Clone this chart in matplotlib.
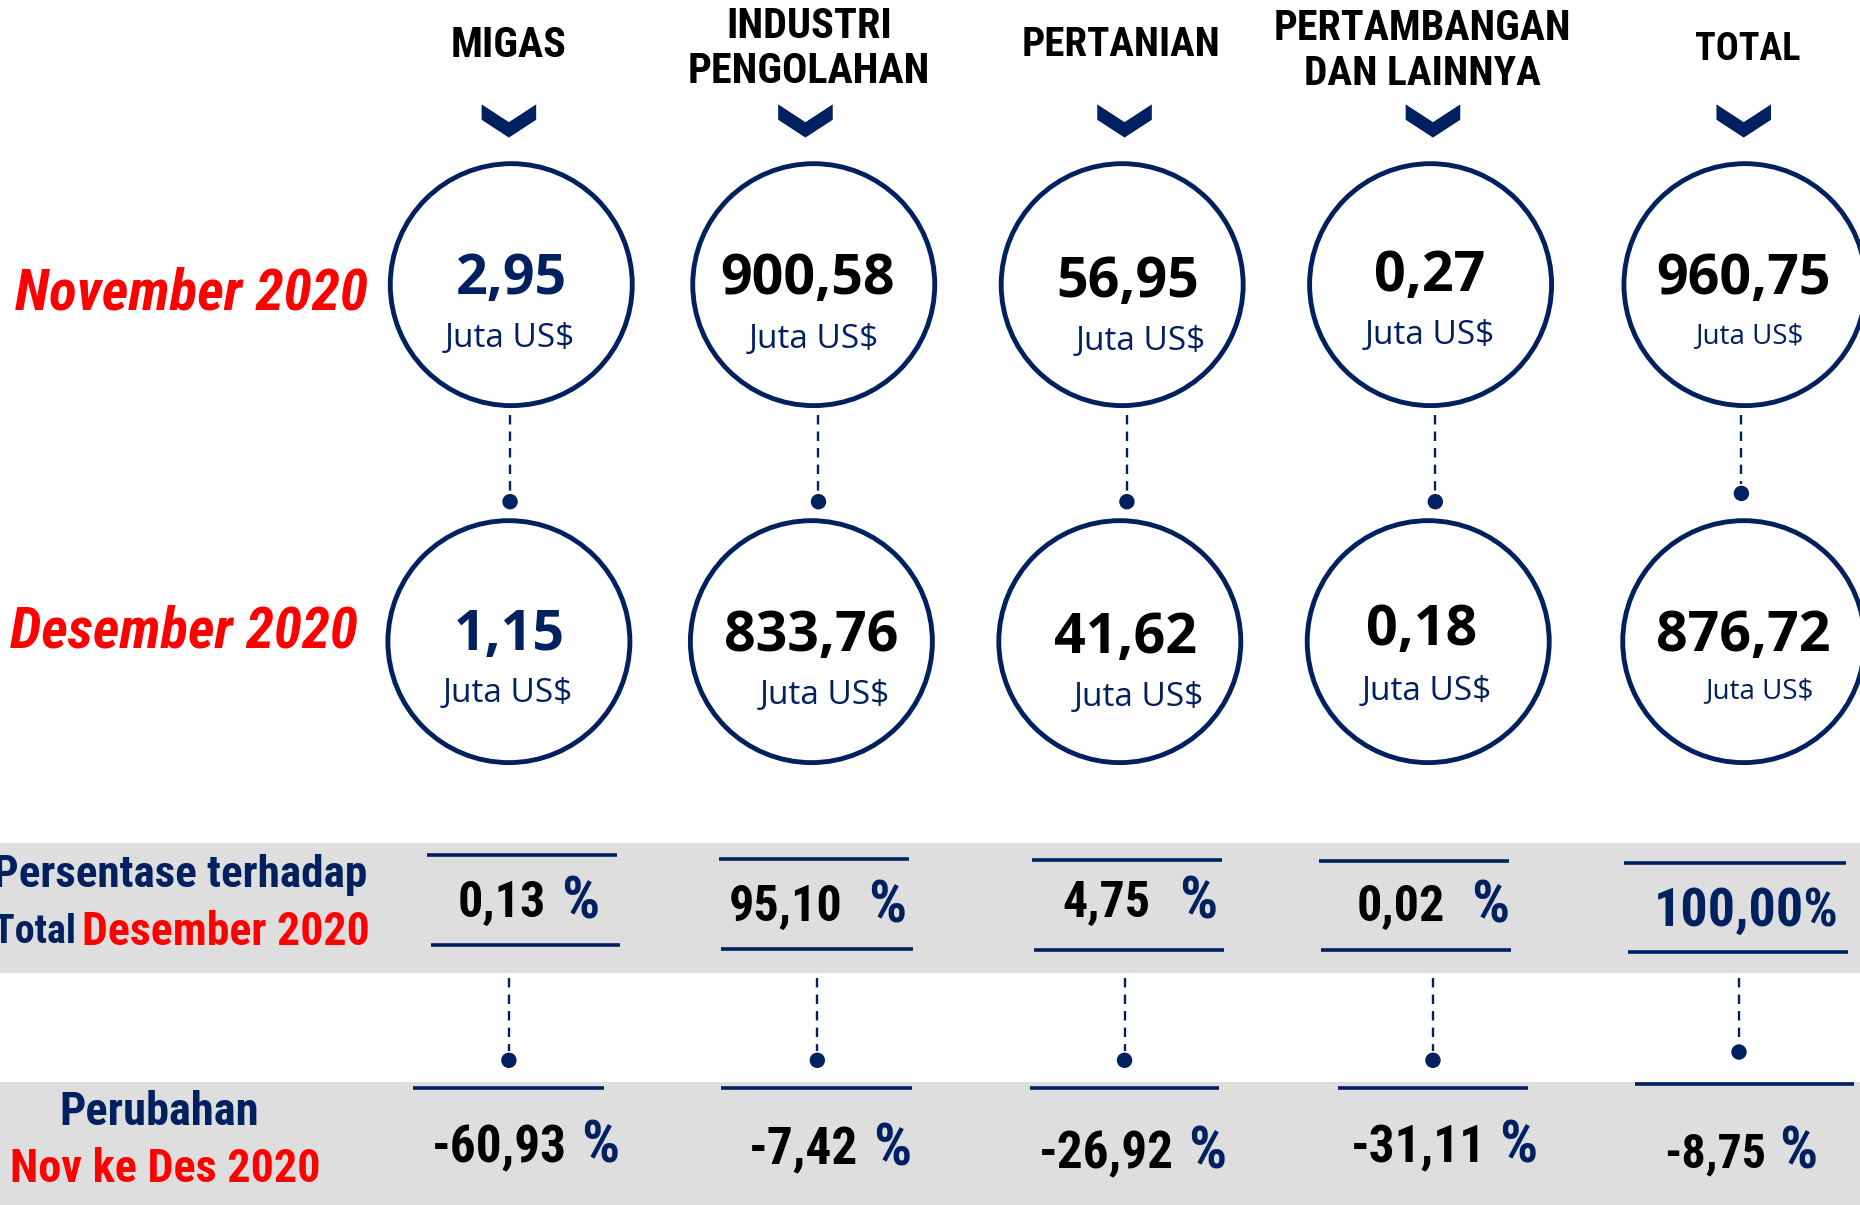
import matplotlib
matplotlib.use("Agg")
import matplotlib.pyplot as plt
from matplotlib.patches import Circle, Polygon, Rectangle
from matplotlib import font_manager as fm

# data
sektor = ["MIGAS", "INDUSTRI\nPENGOLAHAN", "PERTANIAN", "PERTAMBANGAN\nDAN LAINNYA", "TOTAL"]
nov_2020 = [2.95, 900.58, 56.95, 0.27, 960.75]
des_2020 = [1.15, 833.76, 41.62, 0.18, 876.72]
share_des = [0.13, 95.10, 4.75, 0.02, 100.00]
change = [-60.93, -7.42, -26.92, -31.11, -8.75]

NAVY = "#002060"
RED = "#FF0000"
GRAY = "#DEDEDE"

installed = {(f.name, f.stretch) for f in fm.fontManager.ttflist}
names = {n for n, s in installed}
NARROW, STRETCH = "DejaVu Sans", "normal"
for cand in ["Liberation Sans Narrow", "Arial Narrow", "Roboto Condensed",
             "Open Sans Condensed", "Noto Sans Condensed"]:
    if cand in names:
        NARROW = cand
        break
else:
    if ("DejaVu Sans", "condensed") in installed:
        STRETCH = "condensed"
    elif "Roboto" in names:
        NARROW = "Roboto"
SANS = ["Open Sans", "DejaVu Sans"]
K = 1860 / 1568


def fmt(v):
    return f"{v:.2f}".replace(".", ",")


fig = plt.figure(figsize=(18.6, 12.05), dpi=100)
ax = fig.add_axes([0, 0, 1, 1])
ax.set_xlim(0, 1568)
ax.set_ylim(1016, 0)
ax.axis("off")
renderer = fig.canvas.get_renderer()


def ntext(x, y, s, size, width, color, ha="center", style="normal"):
    # narrow bold text, shrunk if the installed font is wider than the original
    t = ax.text(x, y, s, ha=ha, va="center", fontsize=size, fontweight="bold",
                family=NARROW, fontstretch=STRETCH, style=style, color=color)
    w = t.get_window_extent(renderer).width
    if w > width * K:
        t.set_fontsize(size * width * K / w)
    return t


# layout (reference pixel coords)
head_x = [429, 682, 945, 1199, 1473]
head_y = [[38], [22, 60], [38], [24, 62], [42]]
head_w = [[98], [140, 205], [168], [251, 200], [89]]
chev_x = [429, 679, 948, 1208, 1470]
top_c = [(431, 240), (686, 240), (946, 240), (1206, 240), (1471, 240)]
bot_c = [(429, 541), (684, 541), (944, 541), (1204, 541), (1470, 541)]
top_num = [(431, 236), (681, 236), (951, 238), (1205, 233), (1470, 236)]
bot_num = [(429, 536), (684, 537), (949, 538), (1198, 532), (1470, 537)]
top_unit = [(430, 285), (686, 286), (962, 288), (1205, 283), (1475, 283)]
bot_unit = [(428, 585), (695, 586), (960, 588), (1203, 583), (1483, 583)]
unit_size = [24, 24, 24, 24, 20]
num_col = [NAVY, "black", "black", "black", "black"]
dash1_x = [430, 690, 950, 1210, 1468]
dot1_y = [423, 423, 423, 423, 416]
dash2_x = [429, 689, 948, 1208, 1466]
dot2_y = [894, 894, 894, 894, 887]
share_lines = [((360, 520, 721), (363, 523, 797)), ((606, 766, 724), (608, 770, 800)),
               ((870, 1030, 725), (872, 1032, 801)), ((1112, 1272, 726), (1114, 1274, 801)),
               ((1369, 1556, 728), (1372, 1558, 803))]
chg_lines = [(348, 509, 917), (608, 769, 917), (868, 1028, 917), (1128, 1288, 917), (1378, 1563, 914)]
share_num_r = [460, 710, 970, 1218, 1550]
share_num_w = [79, 102, 77, 80, 156]
share_pct_l = [473, 732, 994, 1240, None]
share_y = [762, 765, 762, 765, 768]
chg_num_r = [478, 723, 990, 1253, 1489]
chg_num_w = [114, 93, 115, 117, 86]
chg_pct_l = [490, 736, 1002, 1264, 1500]
chg_y = [968, 970, 973, 968, 973]

# gray bands
ax.add_patch(Rectangle((0, 711), 1568, 109, color=GRAY, zorder=0, lw=0))
ax.add_patch(Rectangle((0, 912), 1568, 110, color=GRAY, zorder=0, lw=0))

for i in range(5):
    for line, y, w in zip(sektor[i].split("\n"), head_y[i], head_w[i]):
        ntext(head_x[i], y, line, 32, w, "black")
    cx = chev_x[i]
    ax.add_patch(Polygon([(cx - 23, 88), (cx, 103), (cx + 23, 88), (cx + 23, 101),
                          (cx, 116), (cx - 23, 101)], closed=True, color=NAVY, lw=0))

    for c, nv, npos, upos in ((top_c[i], nov_2020[i], top_num[i], top_unit[i]),
                              (bot_c[i], des_2020[i], bot_num[i], bot_unit[i])):
        ax.add_patch(Circle(c, 102, fill=False, ec=NAVY, lw=3.5, zorder=2))
        ax.text(npos[0], npos[1], fmt(nv), ha="center", va="center", fontsize=40,
                fontweight="bold", family=SANS, color=num_col[i])
        ax.text(upos[0], upos[1], "Juta US$", ha="center", va="center",
                fontsize=unit_size[i], family=SANS, color=NAVY)

    # connectors
    ax.plot([dash1_x[i], dash1_x[i]], [350, dot1_y[i] - 8], ls=(0, (4, 3)), color=NAVY, lw=1.7)
    ax.add_patch(Circle((dash1_x[i], dot1_y[i]), 6.5, color=NAVY, lw=0))
    ax.plot([dash2_x[i], dash2_x[i]], [825, dot2_y[i] - 8], ls=(0, (4, 3)), color=NAVY, lw=1.7)
    ax.add_patch(Circle((dash2_x[i], dot2_y[i]), 6.5, color=NAVY, lw=0))

    # share rows
    for x0, x1, y in share_lines[i]:
        ax.plot([x0, x1], [y, y], color=NAVY, lw=2.6, solid_capstyle="butt")
    x0, x1, y = chg_lines[i]
    ax.plot([x0, x1], [y, y], color=NAVY, lw=2.6, solid_capstyle="butt")

    if share_pct_l[i] is None:
        ntext(share_num_r[i], share_y[i], fmt(share_des[i]) + "%", 39, share_num_w[i],
              NAVY, ha="right")
    else:
        ntext(share_num_r[i], share_y[i], fmt(share_des[i]), 36, share_num_w[i],
              "black", ha="right")
        ntext(share_pct_l[i], share_y[i] - 1, "%", 43, 38, NAVY, ha="left")
    ntext(chg_num_r[i], chg_y[i], fmt(change[i]), 37, chg_num_w[i], "black", ha="right")
    ntext(chg_pct_l[i], chg_y[i] - 1, "%", 43, 34, NAVY, ha="left")

# row labels
ntext(310, 248, "November 2020", 42, 298, RED, ha="right", style="italic")
ntext(302, 533, "Desember 2020", 42, 294, RED, ha="right", style="italic")
ntext(310, 738, "Persentase terhadap", 34, 315, NAVY, ha="right")
ntext(312, 786, "Desember 2020", 34, 242, RED, ha="right")
ntext(64, 786, "Total", 34, 70, NAVY, ha="right")
ntext(134, 938, "Perubahan", 35, 168, NAVY)
ntext(139, 986, "Nov ke Des 2020", 35, 262, RED)

fig.savefig("out.png", dpi=100)
